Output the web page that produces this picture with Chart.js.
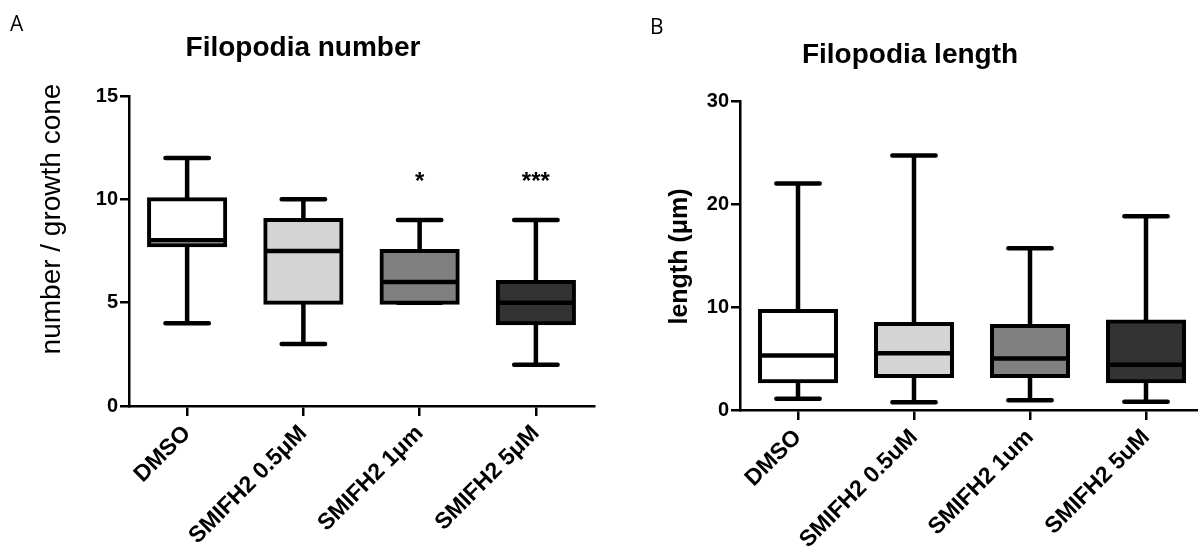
<!DOCTYPE html>
<html>
<head>
<meta charset="utf-8">
<title>Filopodia number / length</title>
<script src="https://cdn.jsdelivr.net/npm/chart.js@4.4.1/dist/chart.umd.min.js"></script>
<style>
    html, body { margin: 0; padding: 0; background: #fff; overflow: hidden; width: 1198px; height: 550px; }
    .panel { position: absolute; top: 0; height: 550px; }
    #divChartA { left: 0; width: 640px; }
    #divChartB { left: 600px; width: 620px; }
    .letter { position: absolute; z-index: 2; font-family: "Open Sans", "Liberation Sans", sans-serif; font-size: 21px; color: #000; line-height: 1; }
</style>
</head>
<body>
<div class="letter" style="left:10px; top:13px;">A</div>
<div class="letter" style="left:650px; top:16px;">B</div>
<div class="panel" id="divChartA"><canvas id="chartA"></canvas></div>
<div class="panel" id="divChartB"><canvas id="chartB"></canvas></div>

<script>
// ---- data ----
var labelsA = ['DMSO', 'SMIFH2 0.5\u03BCM', 'SMIFH2 1\u03BCm', 'SMIFH2 5\u03BCM'];
var minA = [4, 3, 5, 2];
var q1A  = [7.78, 5, 5, 4];
var medA = [8.02, 7.5, 6, 5];
var q3A  = [10, 9, 7.5, 6];
var maxA = [12, 10, 9, 9];
var sigA = ['', '', '*', '***'];

var labelsB = ['DMSO', 'SMIFH2 0.5uM', 'SMIFH2 1um', 'SMIFH2 5uM'];
var minB = [1.1, 0.75, 0.95, 0.8];
var q1B  = [2.8, 3.3, 3.3, 2.8];
var medB = [5.3, 5.5, 5.0, 4.4];
var q3B  = [9.6, 8.35, 8.15, 8.6];
var maxB = [22.0, 24.7, 15.7, 18.8];

var boxColors = ['#ffffff', '#d4d4d4', '#808080', '#333333'];
var FONT = '"Liberation Sans", Arial, Helvetica, sans-serif';

// whiskers behind the boxes, medians + stars on top
var boxPlotPlugin = {
    id: 'boxPlot',
    beforeDatasetsDraw: function(chart, args, opts) {
        var ctx = chart.ctx, y = chart.scales.y;
        var meta = chart.getDatasetMeta(0);
        ctx.save();
        ctx.strokeStyle = '#000';
        ctx.lineWidth = opts.lineWidth;
        ctx.lineCap = 'round';
        meta.data.forEach(function(bar, i) {
            var cap = bar.width * opts.capRatio / 2;
            var yLo = y.getPixelForValue(opts.min[i]);
            var yHi = y.getPixelForValue(opts.max[i]);
            ctx.beginPath();
            ctx.moveTo(bar.x, yHi); ctx.lineTo(bar.x, yLo);
            ctx.moveTo(bar.x - cap, yHi); ctx.lineTo(bar.x + cap, yHi);
            ctx.moveTo(bar.x - cap, yLo); ctx.lineTo(bar.x + cap, yLo);
            ctx.stroke();
        });
        ctx.restore();
    },
    afterDatasetsDraw: function(chart, args, opts) {
        var ctx = chart.ctx, y = chart.scales.y;
        var meta = chart.getDatasetMeta(0);
        ctx.save();
        ctx.strokeStyle = '#000';
        ctx.lineWidth = opts.lineWidth;
        meta.data.forEach(function(bar, i) {
            var ym = y.getPixelForValue(opts.median[i]);
            ctx.beginPath();
            ctx.moveTo(bar.x - bar.width / 2, ym);
            ctx.lineTo(bar.x + bar.width / 2, ym);
            ctx.stroke();
            if (opts.sig && opts.sig[i]) {
                ctx.fillStyle = '#000';
                ctx.font = 'bold 24px ' + FONT;
                ctx.textAlign = 'center';
                ctx.textBaseline = 'middle';
                ctx.fillText(opts.sig[i], bar.x, y.getPixelForValue(opts.max[i]) - opts.sigOffset);
            }
        });
        ctx.restore();
    }
};

// rotated y title that can sit off the centre of the axis
var sideTitlePlugin = {
    id: 'sideTitle',
    afterDraw: function(chart, args, opts) {
        var a = chart.chartArea, ctx = chart.ctx;
        ctx.save();
        ctx.translate(a.left + opts.dx, (a.top + a.bottom) / 2 + opts.dy);
        ctx.rotate(-Math.PI / 2);
        ctx.font = opts.font;
        ctx.fillStyle = '#000';
        ctx.textAlign = 'center';
        ctx.textBaseline = 'middle';
        ctx.fillText(opts.text, 0, 0);
        ctx.restore();
    }
};

function drawBoxChart(id, c) {
    var q = c.q1.map(function(v, i) { return [v, c.q3[i]]; });
    return new Chart(document.getElementById(id), {
        type: 'bar',
        data: {
            labels: c.labels,
            datasets: [{
                data: q,
                backgroundColor: boxColors,
                borderColor: '#000',
                borderWidth: 4,
                borderSkipped: false,
                inflateAmount: 2,
                barPercentage: 0.655,
                categoryPercentage: 1
            }]
        },
        plugins: [boxPlotPlugin, sideTitlePlugin],
        options: {
            responsive: true,
            maintainAspectRatio: false,
            animation: false,
            layout: { padding: { left: c.padL, right: c.padR, top: 0, bottom: 0 } },
            plugins: {
                legend: { display: false },
                tooltip: { enabled: false },
                title: {
                    display: true,
                    text: c.title,
                    color: '#000',
                    font: { family: FONT, size: 28, weight: 'bold' },
                    padding: { top: c.titleTop, bottom: c.titleBottom }
                },
                boxPlot: {
                    min: c.min, max: c.max, median: c.med, sig: c.sig,
                    lineWidth: 4.5, capRatio: 0.57, sigOffset: 38
                },
                sideTitle: { text: c.yTitle, font: c.yTitleFont, dx: c.yTitleDx, dy: c.yTitleDy }
            },
            scales: {
                x: {
                    afterFit: function(s) { s.height = c.xHeight; },
                    grid: { offset: false, drawOnChartArea: false, tickLength: 10, color: '#000', lineWidth: 2.5 },
                    border: { color: '#000', width: 2.5 },
                    ticks: {
                        color: '#000',
                        font: { family: FONT, size: 23, weight: 'bold' },
                        minRotation: 45, maxRotation: 45, autoSkip: false, padding: 4
                    }
                },
                y: {
                    min: 0,
                    max: c.yMax,
                    afterFit: function(s) { s.width = c.yWidth; },
                    grid: { drawOnChartArea: false, tickLength: 9, color: '#000', lineWidth: 2.5 },
                    border: { color: '#000', width: 2.5 },
                    ticks: {
                        stepSize: c.yStep,
                        color: '#000',
                        font: { family: FONT, size: 20, weight: 'bold' },
                        padding: 2
                    }
                }
            }
        }
    });
}

drawBoxChart('chartA', {
    labels: labelsA, q1: q1A, q3: q3A, med: medA, min: minA, max: maxA, sig: sigA,
    title: 'Filopodia number', titleTop: 31.2, titleBottom: 31.2,
    yTitle: 'number / growth cone', yTitleFont: '28px ' + FONT, yTitleDx: -77, yTitleDy: -32,
    yMax: 15, yStep: 5, padL: 12, padR: 46, yWidth: 117, xHeight: 144
});

drawBoxChart('chartB', {
    labels: labelsB, q1: q1B, q3: q3B, med: medB, min: minB, max: maxB, sig: null,
    title: 'Filopodia length', titleTop: 38.2, titleBottom: 29.2,
    yTitle: 'length (\u03BCm)', yTitleFont: 'bold 25px ' + FONT, yTitleDx: -60, yTitleDy: 1,
    yMax: 30, yStep: 10, padL: 16, padR: 16, yWidth: 124, xHeight: 140
});
</script>
</body>
</html>
